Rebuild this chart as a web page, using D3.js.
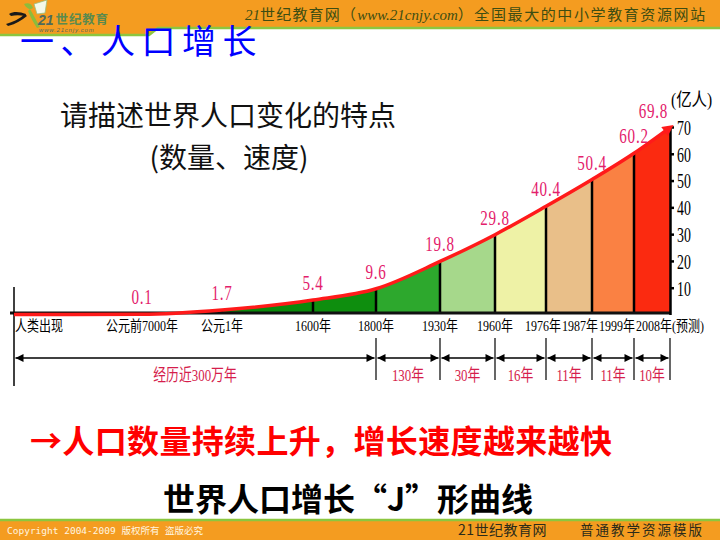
<!DOCTYPE html>
<html><head><meta charset="utf-8">
<script src="https://cdn.jsdelivr.net/npm/d3@7"></script>
<style>html,body{margin:0;padding:0;background:#fff;}svg{display:block}</style>
</head><body>
<svg id="c" width="720" height="540"></svg>
<script>
// ---------- data ----------
const stages = ["人类出现","公元前7000年","公元1年","1600年","1800年","1930年","1960年","1976年","1987年","1999年","2008年(预测)"];
const population = [0, 0.1, 1.7, 5.4, 9.6, 19.8, 29.8, 40.4, 50.4, 60.2, 69.8];
const valueLabels = ["", "0.1", "1.7", "5.4", "9.6", "19.8", "29.8", "40.4", "50.4", "60.2", "69.8"];
const yTicks = [10, 20, 30, 40, 50, 60, 70];
const durationLabels = ["经历近300万年", "130年", "30年", "16年", "11年", "11年", "10年"];
const durationFrom = [0, 4, 5, 6, 7, 8, 9];
const durationTo   = [4, 5, 6, 7, 8, 9, 10];

// ---------- styles ----------
const segmentColors = [null, "#0a800a", "#0b8a0b", "#0e8e0e", "#2da82d", "#a6d88b", "#eef2a6", "#e9bf89", "#fa8143", "#fb2a10"];
const orange = "#f49c20", lime = "#8cc63f", pink = "#e3206b", crimson = "#d51e4c";
const serifCJK = "'Liberation Serif','Noto Sans CJK SC',serif";
const sansCJK = "'Noto Sans CJK SC','Noto Sans',sans-serif";

const svg = d3.select("#c");
svg.append("rect").attr("width", 720).attr("height", 540).attr("fill", "#fff");

// ---------- header ----------
svg.append("path").attr("d", "M0,0H720V27H158L149,34H0Z").attr("fill", orange);
svg.append("path").attr("d", "M0,35H149L158,28H720").attr("fill", "none").attr("stroke", lime).attr("stroke-width", 2.5);
// logo
const logo = svg.append("g");
logo.append("path").attr("d", "M34,4L47,0L45,13L37,14Z").attr("fill", "#f4f8e8").attr("stroke", "#9bbf7a").attr("stroke-width", 0.8);
logo.append("path").attr("d", "M24,4C28,2 32,4 33,8C30,10 27,9 24,4Z").attr("fill", "#8cbc3c");
logo.append("path").attr("d", "M30,9C33,14 36,20 40,27L37,28C33,22 30,16 28,11Z").attr("fill", "#8cbc3c");
logo.append("path").attr("d", "M9,14C14,11 20,12 26,14L25,16C20,15 15,15 11,16Z").attr("fill", "#1a1a1a");
logo.append("path").attr("d", "M27,16C22,20 16,24 8,26L6,24C13,22 19,19 25,14Z").attr("fill", "#1a1a1a");
const lt = logo.append("text").attr("x", 38).attr("y", 25);
lt.append("tspan").attr("font-family", "'Liberation Sans',sans-serif").attr("font-weight", "bold")
  .attr("font-style", "italic").attr("font-size", 14).attr("fill", "#4e6a5e").text("21");
lt.append("tspan").attr("dx", 2).attr("dy", -1).attr("font-family", sansCJK).attr("font-weight", "bold")
  .attr("font-size", 12.5).attr("fill", "#5b8a4e").attr("letter-spacing", 0.8).text("世纪教育");
lt.append("tspan").attr("x", 39).attr("y", 32).attr("font-family", "'Liberation Sans',sans-serif")
  .attr("font-style", "italic").attr("font-size", 6).attr("fill", "#4e6a5e").attr("letter-spacing", 0.8).text("www.21cnjy.com");

const ht = svg.append("text").attr("x", 245).attr("y", 20).attr("fill", "#3d4d12").attr("font-size", 15);
ht.append("tspan").attr("font-family", "'Liberation Serif',serif").attr("font-style", "italic").text("21");
ht.append("tspan").attr("font-family", sansCJK).attr("letter-spacing", 1.2).text("世纪教育网（");
ht.append("tspan").attr("font-family", "'Liberation Serif',serif").attr("font-style", "italic").text("www.21cnjy.com");
ht.append("tspan").attr("font-family", sansCJK).attr("letter-spacing", 1.6).text("）全国最大的中小学教育资源网站");

// title
svg.append("text").attr("x", 20).attr("y", 54).attr("font-family", sansCJK).attr("font-size", 34)
  .attr("letter-spacing", 6.5).attr("fill", "#0000ff").text("一、人口增长");

svg.append("text").attr("x", 60).attr("y", 126).attr("font-family", sansCJK).attr("font-size", 28)
  .attr("fill", "#111").text("请描述世界人口变化的特点");
svg.append("text").attr("x", 229).attr("y", 168).attr("text-anchor", "middle").attr("font-family", sansCJK).attr("font-size", 28)
  .attr("fill", "#111").text("(数量、速度)");

// ---------- chart ----------
const baseY = 313;
const y = d3.scaleLinear().domain([0, 70]).range([314.5, 127]);
const x = d3.scaleLinear().domain(d3.range(stages.length))
  .range([14, 142, 222, 313, 376, 440, 495, 546, 592, 634, 670]);

const pts = population.map((v, i) => [x(i), y(v)]);
const area = d3.area().x(d => d[0]).y0(baseY).y1(d => d[1]).curve(d3.curveMonotoneX);
const line = d3.line().x(d => d[0]).y(d => d[1]).curve(d3.curveMonotoneX);

const defs = svg.append("defs");
defs.append("marker").attr("id", "arr").attr("viewBox", "0 0 10 10").attr("refX", 6).attr("refY", 5)
  .attr("markerWidth", 5).attr("markerHeight", 3.2).attr("orient", "auto")
  .append("path").attr("d", "M0,0L10,5L0,10Z").attr("fill", "#ff1a1a");

const chart = svg.append("g");
segmentColors.forEach((c, i) => {
  if (!c) return;
  defs.append("clipPath").attr("id", "seg" + i).append("rect")
    .attr("x", x(i)).attr("y", 0).attr("width", x(i + 1) - x(i)).attr("height", baseY);
  chart.append("path").attr("d", area(pts)).attr("fill", c).attr("clip-path", `url(#seg${i})`);
});

// separators from baseline to curve
chart.selectAll("line.sep").data(population.slice(1, -1)).join("line")
  .attr("x1", (d, i) => x(i + 1)).attr("x2", (d, i) => x(i + 1))
  .attr("y1", baseY).attr("y2", d => y(d)).attr("stroke", "#000").attr("stroke-width", 2.5);

// baseline
chart.append("line").attr("x1", 10).attr("x2", x(stages.length - 1)).attr("y1", baseY).attr("y2", baseY)
  .attr("stroke", "#111").attr("stroke-width", 3);
// left vertical line
chart.append("line").attr("x1", x(0)).attr("x2", x(0)).attr("y1", 287).attr("y2", 386)
  .attr("stroke", "#000").attr("stroke-width", 1.5);

// right axis
const yAxis = d3.axisRight(y).tickValues(yTicks).tickSize(4).tickSizeOuter(0);
const ag = chart.append("g").attr("transform", `translate(${x(stages.length - 1)},0)`).call(yAxis);
ag.select(".domain").attr("stroke", "#000").attr("stroke-width", 2.5);
ag.selectAll(".tick line").attr("stroke", "#000").attr("stroke-width", 2.5);
const tsx = 0.66;
ag.selectAll(".tick text").attr("font-family", "'Liberation Serif',serif").attr("font-size", 21)
  .attr("fill", "#000").attr("x", 7 / tsx).attr("dy", "0.35em").attr("transform", `scale(${tsx},1)`);
chart.append("text").attr("transform", `translate(${x(stages.length - 1) + 1},106) scale(0.86,1)`)
  .attr("font-family", serifCJK).attr("font-size", 18).attr("fill", "#000").text("(亿人)");

// red curve
chart.append("path").attr("d", line(pts)).attr("fill", "none").attr("stroke", "#ff1a1a")
  .attr("stroke-width", 3.5).attr("marker-end", "url(#arr)");

// value labels
const vsx = 0.72;
chart.selectAll("text.val").data(valueLabels).join("text").attr("class", "val")
  .attr("font-family", "'Liberation Serif',serif").attr("font-size", 21).attr("fill", pink)
  .attr("letter-spacing", 1)
  .text(d => d)
  .each(function (d, i) {
    const last = i === valueLabels.length - 1;
    d3.select(this).attr("text-anchor", last ? "end" : "middle")
      .attr("transform", `translate(${x(i) - (last ? 2 : 0)},${y(population[i]) - 10}) scale(${vsx},1)`);
  });

// category labels with simple right-edge relaxation
const lsx = 0.8;
const lab = chart.selectAll("text.cat").data(stages).join("text").attr("class", "cat")
  .attr("font-family", serifCJK).attr("font-size", 15).attr("fill", "#000").text(d => d);
const widths = [];
lab.each(function () { widths.push(this.getComputedTextLength() * lsx); });
const lefts = stages.map((d, i) => i === 0 ? x(0) + 1 : x(i) - widths[i] / 2);
let limit = 712;
for (let i = stages.length - 1; i > 0; i--) {
  if (lefts[i] + widths[i] > limit) lefts[i] = limit - widths[i];
  limit = lefts[i] - 1;
}
lab.attr("transform", (d, i) => `translate(${lefts[i]},331) scale(${lsx},1)`);

// duration row
const rowY = 358;
const bounds = Array.from(new Set(durationFrom.concat(durationTo))).filter(i => i > 0);
chart.selectAll("line.bnd").data(bounds).join("line")
  .attr("x1", d => x(d)).attr("x2", d => x(d)).attr("y1", 338).attr("y2", 380)
  .attr("stroke", "#000").attr("stroke-width", 1.2);
durationLabels.forEach((lbl, k) => {
  const a = x(durationFrom[k]) + 1.5, b = x(durationTo[k]) - 1.5;
  chart.append("line").attr("x1", a).attr("x2", b).attr("y1", rowY).attr("y2", rowY)
    .attr("stroke", "#000").attr("stroke-width", 1.3);
  chart.append("path").attr("d", `M${a},${rowY}l8,-4v8Z`).attr("fill", "#000");
  chart.append("path").attr("d", `M${b},${rowY}l-8,-4v8Z`).attr("fill", "#000");
  chart.append("text").attr("text-anchor", "middle")
    .attr("transform", `translate(${(a + b) / 2},381) scale(0.78,1)`)
    .attr("font-family", serifCJK).attr("font-size", 16.5).attr("fill", crimson).text(lbl);
});

// ---------- conclusions ----------
svg.append("text").attr("x", 30).attr("y", 453).attr("font-family", sansCJK).attr("font-size", 32)
  .attr("font-weight", "bold").attr("fill", "#ff0000").attr("textLength", 582).attr("lengthAdjust", "spacing")
  .text("→人口数量持续上升，增长速度越来越快");
svg.append("text").attr("x", 348).attr("y", 511).attr("text-anchor", "middle").attr("font-family", sansCJK)
  .attr("font-size", 32).attr("font-weight", "bold").attr("fill", "#000").text("世界人口增长“J”形曲线");

// ---------- footer ----------
svg.append("rect").attr("x", 0).attr("y", 521).attr("width", 720).attr("height", 19).attr("fill", orange);
svg.append("line").attr("x1", 0).attr("x2", 720).attr("y1", 520).attr("y2", 520).attr("stroke", lime).attr("stroke-width", 2.5);
svg.append("text").attr("x", 7).attr("y", 534).attr("font-family", "'DejaVu Sans Mono','Noto Sans CJK SC',monospace")
  .attr("font-size", 9.5).attr("fill", "#fff6e0").text("Copyright 2004-2009 版权所有 盗版必究");
svg.append("text").attr("x", 458).attr("y", 535).attr("font-family", sansCJK).attr("font-size", 14)
  .attr("fill", "#2b2b1a").attr("letter-spacing", 0.5).text("21世纪教育网");
svg.append("text").attr("x", 580).attr("y", 535).attr("font-family", sansCJK).attr("font-size", 13.5)
  .attr("fill", "#2b2b1a").attr("letter-spacing", 2).text("普通教学资源模版");
</script>
</body></html>
